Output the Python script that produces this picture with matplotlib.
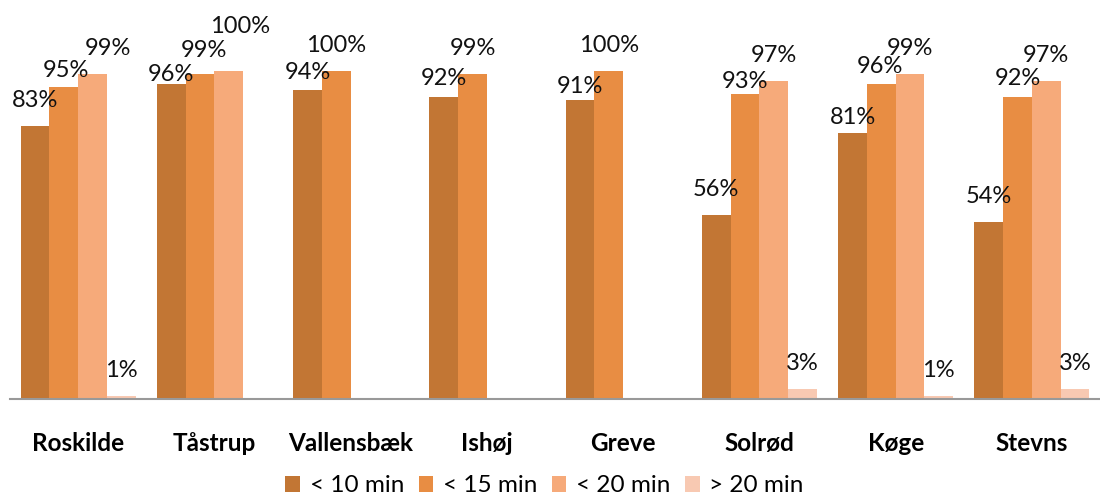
import numpy as np
import matplotlib.pyplot as plt

plt.rcParams["font.family"] = ["Lato", "DejaVu Sans"]

kommuner = ["Roskilde", "Tåstrup", "Vallensbæk", "Ishøj", "Greve", "Solrød", "Køge", "Stevns"]
series_names = ["< 10 min", "< 15 min", "< 20 min", "> 20 min"]
under_10 = [83, 96, 94, 92, 91, 56, 81, 54]
under_15 = [95, 99, 100, 99, 100, 93, 96, 92]
under_20 = [99, 100, np.nan, np.nan, np.nan, 97, 99, 97]
over_20 = [1, np.nan, np.nan, np.nan, np.nan, 3, 1, 3]

colors = ["#C27634", "#E88D43", "#F6AA7A", "#F8C9B2"]
series = [under_10, under_15, under_20, over_20]

# (group, series) -> (dx, dy) in px: crowded labels shifted like Excel did it
nudge = {
    (0, 1): (2, -9), (0, 2): (15, 0),
    (1, 0): (0, -16), (1, 1): (4, -2), (1, 2): (11, 19),
    (2, 0): (0, -8), (3, 0): (0, -7), (4, 0): (0, -12),
    (5, 1): (0, -13), (6, 0): (0, -10), (6, 1): (-1, -8), (7, 1): (0, -7),
}

fig = plt.figure(figsize=(11, 4.97), dpi=100)
ax = fig.add_axes([10 / 1100, 98 / 497, 1090 / 1100, 394 / 497])

x = np.arange(len(kommuner))
w = 0.211
for i, (vals, c) in enumerate(zip(series, colors)):
    vals = np.array(vals, dtype=float) / 100
    pos = x - 1.5 * w + i * w
    ax.bar(pos, vals, width=w, color=c, label=series_names[i])
    for j, (p, v) in enumerate(zip(pos, vals)):
        if np.isnan(v):
            continue
        dx, dy = nudge.get((j, i), (0, 0))
        ax.annotate(f"{v * 100:.0f}%", (p, v), xytext=(dx * 0.72, (19 + dy) * 0.72),
                    textcoords="offset points", ha="center", va="baseline",
                    fontsize=17, color="#111111")

ax.set_xlim(-0.5, len(kommuner) - 0.5)
ax.set_ylim(0, 1.2)
ax.set_yticks([])
ax.set_xticks(x)
ax.set_xticklabels(kommuner, fontsize=17.5, fontweight="bold")
ax.tick_params(axis="x", length=0, pad=24)
for s in ["top", "right", "left"]:
    ax.spines[s].set_visible(False)
ax.spines["bottom"].set_color("#999999")
ax.spines["bottom"].set_linewidth(1.5)

fig.legend(loc="lower center", bbox_to_anchor=(0.495, -0.043), ncol=4, frameon=False,
           fontsize=17.5, handlelength=0.6, handleheight=0.6, handletextpad=0.4,
           columnspacing=0.6)

fig.savefig("out.png", dpi=100)
